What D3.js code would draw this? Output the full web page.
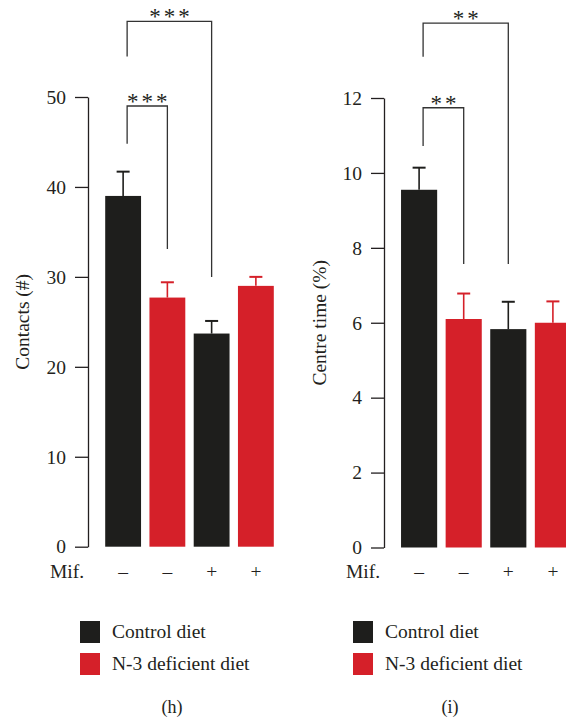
<!DOCTYPE html>
<html>
<head>
<meta charset="utf-8">
<script src="https://cdn.jsdelivr.net/npm/d3@7"></script>
<style>
    body { margin: 0; background: #fff; }
</style>
</head>
<body>
<div id="graph"></div>
<script>
// group order along the x axis
const groups = ["ctrl-", "n3-", "ctrl+", "n3+"];
const groupDiet = ["Control diet", "N-3 deficient diet", "Control diet", "N-3 deficient diet"];
const mifLabels = ["\u2013", "\u2013", "+", "+"];
const legendLabels = ["Control diet", "N-3 deficient diet"];

// panel (h) contacts
const contactsMean = [39.0, 27.7, 23.7, 29.0];
const contactsSem = [2.7, 1.7, 1.4, 1.0];
const contactsTicks = [0, 10, 20, 30, 40, 50];
const contactsSig = [
    { from: 0, to: 1, top: 49.0, leftEnd: 44.8, rightEnd: 33.1, label: "***" },
    { from: 0, to: 2, top: 58.4, leftEnd: 54.5, rightEnd: 30.0, label: "***" }
];

// panel (i) centre time
const centreMean = [9.55, 6.1, 5.83, 6.0];
const centreSem = [0.59, 0.68, 0.73, 0.57];
const centreTicks = [0, 2, 4, 6, 8, 10, 12];
const centreSig = [
    { from: 0, to: 1, top: 11.74, leftEnd: 10.72, rightEnd: 7.57, label: "**" },
    { from: 0, to: 2, top: 14.0, leftEnd: 13.1, rightEnd: 7.57, label: "**" }
];

const colors = { "Control diet": "#1e1e1c", "N-3 deficient diet": "#d52029" };
const serif = "'Liberation Serif', 'Times New Roman', 'DejaVu Serif', serif";

const svg = d3.select("#graph")
    .append("svg")
    .attr("width", 566)
    .attr("height", 720);

function drawPanel(opt) {
    const g = svg.append("g");

    const yScale = d3.scaleLinear()
        .domain([0, d3.max(opt.ticks)])
        .range([opt.y0, opt.y1]);

    const xScale = d3.scaleBand()
        .domain(groups)
        .range(opt.xRange)
        .paddingInner(0.19)
        .paddingOuter(0.095);

    // y axis
    const yAxis = d3.axisLeft(yScale)
        .tickValues(opt.ticks)
        .tickSize(13)
        .tickSizeOuter(0)
        .tickPadding(9);
    const yAxisG = g.append("g")
        .attr("transform", `translate(${opt.axisX},0)`)
        .call(yAxis)
        .attr("font-family", null)
        .attr("font-size", null);
    yAxisG.selectAll("path, line").attr("stroke", "#231f20").attr("stroke-width", 1.3);
    yAxisG.selectAll("text").style("font-size", "19.5px").attr("fill", "#231f20");

    g.append("text")
        .attr("transform", `translate(${opt.labelX},${(opt.y0 + opt.y1) / 2}) rotate(-90)`)
        .attr("text-anchor", "middle")
        .style("font-size", "19.5px")
        .text(opt.yLabel);

    const data = groups.map((k, i) => ({ key: k, diet: groupDiet[i], mean: opt.mean[i], sem: opt.sem[i] }));

    // bars
    g.selectAll(".bar")
        .data(data)
        .enter()
        .append("rect")
        .attr("class", "bar")
        .attr("x", d => xScale(d.key))
        .attr("y", d => yScale(d.mean))
        .attr("width", xScale.bandwidth())
        .attr("height", d => yScale(0) - yScale(d.mean))
        .attr("fill", d => colors[d.diet]);

    // error bars (upper only)
    const cap = 6.5;
    data.forEach(d => {
        const cx = xScale(d.key) + xScale.bandwidth() / 2;
        g.append("line")
            .attr("x1", cx).attr("x2", cx)
            .attr("y1", yScale(d.mean)).attr("y2", yScale(d.mean + d.sem))
            .attr("stroke", colors[d.diet]).attr("stroke-width", 1.6);
        g.append("line")
            .attr("x1", cx - cap).attr("x2", cx + cap)
            .attr("y1", yScale(d.mean + d.sem)).attr("y2", yScale(d.mean + d.sem))
            .attr("stroke", colors[d.diet]).attr("stroke-width", 2);
    });

    // Mif. row
    g.append("text")
        .attr("x", opt.axisX - 4)
        .attr("y", 578)
        .attr("text-anchor", "end")
        .style("font-size", "19.5px")
        .text("Mif.");
    g.selectAll(".mif")
        .data(mifLabels)
        .enter()
        .append("text")
        .attr("x", (d, i) => xScale(groups[i]) + xScale.bandwidth() / 2)
        .attr("y", 578)
        .attr("text-anchor", "middle")
        .style("font-size", "19.5px")
        .text(d => d);

    // significance brackets
    opt.sig.forEach(s => {
        const xa = xScale(groups[s.from]) + xScale.bandwidth() / 2 + 4;
        const xb = xScale(groups[s.to]) + xScale.bandwidth() / 2;
        const path = d3.path();
        path.moveTo(xa, yScale(s.leftEnd));
        path.lineTo(xa, yScale(s.top));
        path.lineTo(xb, yScale(s.top));
        path.lineTo(xb, yScale(s.rightEnd));
        g.append("path")
            .attr("d", path.toString())
            .attr("fill", "none")
            .attr("stroke", "#333")
            .attr("stroke-width", 1.3);
        g.append("text")
            .attr("x", (xa + xb) / 2 + 1.5)
            .attr("y", yScale(s.top) + 3)
            .attr("text-anchor", "middle")
            .style("font-size", "23px")
            .style("letter-spacing", "3px")
            .text(s.label);
    });

    // legend
    legendLabels.forEach((lab, i) => {
        g.append("rect")
            .attr("x", opt.legendX)
            .attr("y", 621 + i * 32)
            .attr("width", 20)
            .attr("height", 22)
            .attr("fill", colors[lab]);
        g.append("text")
            .attr("x", opt.legendX + 32)
            .attr("y", 638 + i * 32)
            .style("font-size", "19.5px")
            .text(lab);
    });

    g.append("text")
        .attr("x", opt.panelX)
        .attr("y", 713)
        .attr("text-anchor", "middle")
        .style("font-size", "18px")
        .text(opt.panel);
}

drawPanel({
    mean: contactsMean, sem: contactsSem, ticks: contactsTicks, sig: contactsSig,
    yLabel: "Contacts (#)", y0: 546.7, y1: 97, axisX: 88, labelX: 29,
    xRange: [101, 278], legendX: 80, panelX: 172, panel: "(h)"
});

drawPanel({
    mean: centreMean, sem: centreSem, ticks: centreTicks, sig: centreSig,
    yLabel: "Centre time (%)", y0: 547.5, y1: 98, axisX: 384, labelX: 326,
    xRange: [396.8, 575.2], legendX: 353, panelX: 450, panel: "(i)"
});

svg.selectAll("text")
    .style("font-family", serif)
    .style("fill", "#231f20");
</script>
</body>
</html>
